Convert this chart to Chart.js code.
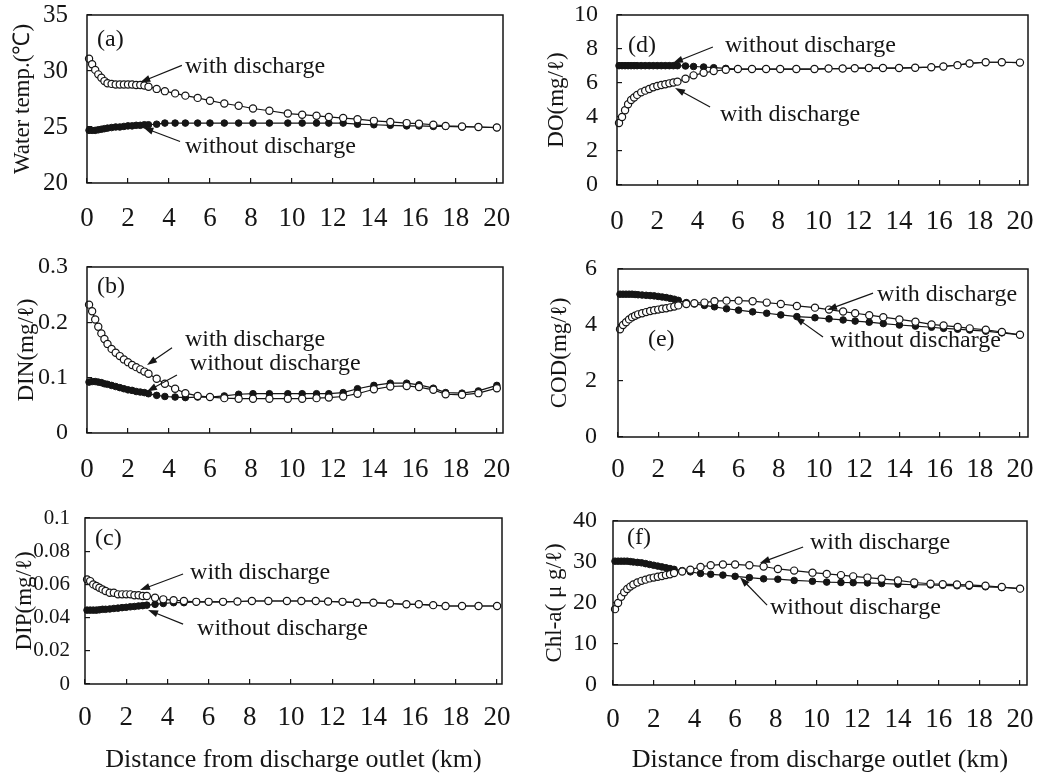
<!DOCTYPE html>
<html>
<head>
<meta charset="utf-8">
<script src="https://cdn.jsdelivr.net/npm/chart.js@4.4.0/dist/chart.umd.min.js"></script>
<style>
  body { margin: 0; background: #fff; }
  canvas { position: absolute; }
</style>
</head>
<body>
<canvas id="ca"></canvas>
<canvas id="cb"></canvas>
<canvas id="cc"></canvas>
<canvas id="cd"></canvas>
<canvas id="ce"></canvas>
<canvas id="cf"></canvas>
<script>
// distance from outlet (km), model output points
var km = [0.1, 0.25, 0.4, 0.55, 0.7, 0.85, 1.0, 1.2, 1.4, 1.6, 1.8, 2.0, 2.2, 2.4, 2.6, 2.8, 3.0,
  3.4, 3.8, 4.3, 4.8, 5.4, 6.0, 6.7, 7.4, 8.1, 8.9, 9.8,
  10.5, 11.2, 11.8, 12.5, 13.2, 14.0, 14.8, 15.6, 16.2, 16.9, 17.5, 18.3, 19.1, 20.0];

var tempWith = [31.1, 30.6, 30.1, 29.7, 29.4, 29.1, 28.9, 28.85, 28.8, 28.8, 28.8, 28.8, 28.8, 28.75, 28.75, 28.7, 28.6,
  28.4, 28.2, 28.0, 27.8, 27.6, 27.35, 27.1, 26.9, 26.65, 26.45, 26.2,
  26.1, 26.0, 25.9, 25.8, 25.7, 25.55, 25.45, 25.35, 25.3, 25.2, 25.1, 25.05, 25.0, 24.95];
var tempWithout = [24.7, 24.7, 24.7, 24.75, 24.8, 24.85, 24.9, 24.95, 25.0, 25.0, 25.05, 25.1, 25.1, 25.15, 25.15, 25.2, 25.2,
  25.25, 25.35, 25.35, 25.35, 25.35, 25.35, 25.35, 25.35, 25.35, 25.35, 25.35,
  25.35, 25.35, 25.35, 25.35, 25.25, 25.2, 25.15, 25.1, 25.1, 25.05, 25.05, 25.0, 25.0, 24.95];

var dinWith = [0.232, 0.220, 0.205, 0.192, 0.180, 0.170, 0.161, 0.152, 0.145, 0.139, 0.133, 0.128, 0.123, 0.119, 0.115, 0.111, 0.107,
  0.098, 0.089, 0.080, 0.072, 0.067, 0.065, 0.063, 0.062, 0.062, 0.062, 0.062,
  0.062, 0.063, 0.064, 0.066, 0.071, 0.079, 0.084, 0.085, 0.083, 0.078, 0.070, 0.069, 0.072, 0.081];
var dinWithout = [0.092, 0.093, 0.093, 0.092, 0.091, 0.089, 0.088, 0.086, 0.084, 0.082, 0.080, 0.078, 0.077, 0.075, 0.074, 0.073, 0.071,
  0.068, 0.066, 0.065, 0.064, 0.065, 0.065, 0.067, 0.070, 0.071, 0.071, 0.071,
  0.071, 0.071, 0.071, 0.073, 0.080, 0.086, 0.090, 0.090, 0.087, 0.081, 0.073, 0.072, 0.076, 0.086];

var dipWith = [0.063, 0.062, 0.060, 0.059, 0.058, 0.057, 0.056, 0.055, 0.055, 0.054, 0.054, 0.054, 0.054, 0.0535, 0.0535, 0.053, 0.053,
  0.052, 0.051, 0.0505, 0.050, 0.0495, 0.0495, 0.0495, 0.0497, 0.050, 0.050, 0.050,
  0.050, 0.050, 0.0497, 0.0495, 0.049, 0.049, 0.0485, 0.048, 0.048, 0.0475, 0.047, 0.047, 0.047, 0.047];
var dipWithout = [0.0445, 0.0445, 0.0445, 0.0445, 0.0447, 0.045, 0.045, 0.0452, 0.0455, 0.0457, 0.046, 0.0462, 0.0465, 0.0467, 0.047, 0.0472, 0.0475,
  0.048, 0.0485, 0.049, 0.049, 0.0495, 0.0495, 0.0495, 0.0497, 0.050, 0.050, 0.050,
  0.050, 0.050, 0.0497, 0.0495, 0.049, 0.049, 0.0485, 0.048, 0.048, 0.0475, 0.047, 0.047, 0.047, 0.047];

var doWith = [3.65, 4.0, 4.4, 4.75, 5.0, 5.15, 5.3, 5.45, 5.55, 5.65, 5.75, 5.82, 5.88, 5.93, 5.98, 6.03, 6.08,
  6.25, 6.45, 6.6, 6.7, 6.78, 6.82, 6.82, 6.82, 6.82, 6.82, 6.82,
  6.85, 6.85, 6.87, 6.88, 6.88, 6.88, 6.9, 6.93, 6.97, 7.05, 7.15, 7.22, 7.22, 7.2];
var doWithout = [7.02, 7.02, 7.02, 7.02, 7.02, 7.02, 7.02, 7.02, 7.02, 7.02, 7.02, 7.02, 7.02, 7.02, 7.02, 7.02, 7.02,
  7.0, 6.97, 6.94, 6.9, 6.86, 6.82, 6.82, 6.82, 6.82, 6.82, 6.82,
  6.85, 6.85, 6.87, 6.88, 6.88, 6.88, 6.9, 6.93, 6.97, 7.05, 7.15, 7.22, 7.22, 7.2];

var codWith = [3.85, 4.0, 4.1, 4.2, 4.28, 4.33, 4.38, 4.42, 4.46, 4.5, 4.53, 4.55, 4.58, 4.6, 4.63, 4.66, 4.7,
  4.75, 4.78, 4.8, 4.85, 4.87, 4.87, 4.85, 4.8, 4.75, 4.68, 4.62,
  4.55, 4.48, 4.42, 4.35, 4.28, 4.2, 4.12, 4.02, 3.98, 3.93, 3.88, 3.83, 3.75, 3.65];
var codWithout = [5.1, 5.1, 5.1, 5.1, 5.1, 5.09, 5.08, 5.07, 5.06, 5.05, 5.04, 5.02, 5.0, 4.98, 4.95, 4.92, 4.88,
  4.8, 4.75, 4.7, 4.65, 4.58, 4.53, 4.47, 4.42, 4.36, 4.3, 4.26,
  4.22, 4.18, 4.14, 4.1, 4.05, 4.0, 3.96, 3.92, 3.88, 3.85, 3.82, 3.78, 3.72, 3.65];

var chlWith = [18.5, 20.0, 21.5, 22.6, 23.4, 24.0, 24.5, 25.0, 25.4, 25.7, 26.0, 26.2, 26.4, 26.6, 26.8, 27.0, 27.3,
  27.7, 28.1, 28.8, 29.2, 29.4, 29.4, 29.2, 28.9, 28.3, 27.9, 27.4,
  27.1, 26.8, 26.5, 26.2, 25.9, 25.5, 25.0, 24.7, 24.6, 24.5, 24.4, 24.2, 23.9, 23.5];
var chlWithout = [30.2, 30.2, 30.2, 30.2, 30.2, 30.1, 30.0, 29.9, 29.8, 29.6, 29.4, 29.2, 29.0, 28.8, 28.6, 28.4, 28.2,
  27.9, 27.6, 27.2, 27.0, 26.8, 26.5, 26.2, 25.9, 25.8, 25.5, 25.3,
  25.1, 25.0, 24.95, 24.9, 24.75, 24.6, 24.45, 24.4, 24.3, 24.2, 24.1, 23.95, 23.8, 23.5];

var W = 'with discharge', WO = 'without discharge';
var ink = '#151515';
var serif = '"Liberation Serif", "Times New Roman", serif';

// labels + arrows in data units of each panel
var panels = [
  { id: 'ca', box: [0, 0, 525, 245], padTop: 15, padRight: 22, yw: 87, xh: 62, xMax: 20.3,
    yMin: 20, yMax: 35, step: 5, yFont: 25, yPad: 24, xPad: 25, title: 'Water temp.(℃)', tPad: 9,
    w: tempWith, wo: tempWithout,
    notes: [
      { text: '(a)', at: [0.49, 32.77] },
      { text: W, at: [4.78, 30.36], from: [4.63, 30.5], to: [2.6, 29.0] },
      { text: WO, at: [4.78, 23.2], from: [4.54, 23.7], to: [2.75, 24.95] }
    ] },
  { id: 'cb', box: [0, 245, 525, 245], padTop: 22, padRight: 22, yw: 87, xh: 57, xMax: 20.3,
    yMin: 0, yMax: 0.3, step: 0.1, yFont: 24, yPad: 24, xPad: 26, title: 'DIN(mg/ℓ)', tPad: 13,
    w: dinWith, wo: dinWithout,
    notes: [
      { text: '(b)', at: [0.49, 0.264] },
      { text: W, at: [4.78, 0.168], from: [4.15, 0.154], to: [2.93, 0.123] },
      { text: WO, at: [5.02, 0.125], from: [4.39, 0.105], to: [2.93, 0.075] }
    ] },
  { id: 'cc', box: [0, 490, 525, 286], padTop: 28, padRight: 23, yw: 85, xh: 92, xMax: 20.24,
    yMin: 0, yMax: 0.1, step: 0.02, yFont: 21, yPad: 20, xPad: 23, title: 'DIP(mg/ℓ)', tPad: 11,
    xTitle: 'Distance from discharge outlet (km)',
    w: dipWith, wo: dipWithout,
    notes: [
      { text: '(c)', at: [0.49, 0.0873] },
      { text: W, at: [5.1, 0.0669], from: [4.76, 0.0663], to: [2.67, 0.0566] },
      { text: WO, at: [5.44, 0.0331], from: [4.76, 0.0361], to: [3.06, 0.0446] }
    ] },
  { id: 'cd', box: [525, 0, 526, 245], padTop: 15, padRight: 23, yw: 92, xh: 60, xMax: 20.4,
    yMin: 0, yMax: 10, step: 2, yFont: 24, yPad: 24, xPad: 26, title: 'DO(mg/ℓ)', tPad: 18,
    w: doWith, wo: doWithout,
    notes: [
      { text: '(d)', at: [0.55, 8.18] },
      { text: WO, at: [5.36, 8.18], from: [4.76, 8.12], to: [2.78, 7.18] },
      { text: W, at: [5.11, 4.12], from: [4.62, 4.59], to: [2.88, 5.71] }
    ] },
  { id: 'ce', box: [525, 245, 526, 245], padTop: 24, padRight: 23, yw: 93, xh: 53, xMax: 20.4,
    yMin: 0, yMax: 6, step: 2, yFont: 24, yPad: 26, xPad: 22, title: 'COD(mg/ℓ)', tPad: 21,
    w: codWith, wo: codWithout,
    notes: [
      { text: '(e)', at: [1.49, 3.46] },
      { text: W, at: [12.89, 5.07], from: [12.69, 5.14], to: [10.4, 4.54] },
      { text: WO, at: [10.55, 3.43], from: [10.2, 3.57], to: [8.8, 4.29] }
    ] },
  { id: 'cf', box: [525, 490, 526, 286], padTop: 31, padRight: 24, yw: 88, xh: 91, xMax: 20.34,
    yMin: 0, yMax: 40, step: 10, yFont: 24, yPad: 21, xPad: 24, title: 'Chl-a( μ g/ℓ)', tPad: 16,
    xTitle: 'Distance from discharge outlet (km)',
    w: chlWith, wo: chlWithout,
    notes: [
      { text: '(f)', at: [0.69, 35.9] },
      { text: W, at: [9.68, 34.6], from: [9.34, 33.66], to: [7.22, 29.76] },
      { text: WO, at: [7.71, 18.8], from: [7.57, 19.5], to: [6.24, 26.3] }
    ] }
];

function arrow(ctx, x1, y1, x2, y2) {
  var a = Math.atan2(y2 - y1, x2 - x1);
  ctx.beginPath();
  ctx.moveTo(x1, y1);
  ctx.lineTo(x2 - 6 * Math.cos(a), y2 - 6 * Math.sin(a));
  ctx.stroke();
  ctx.beginPath();
  ctx.moveTo(x2, y2);
  ctx.lineTo(x2 - 10 * Math.cos(a) + 3.5 * Math.sin(a), y2 - 10 * Math.sin(a) - 3.5 * Math.cos(a));
  ctx.lineTo(x2 - 10 * Math.cos(a) - 3.5 * Math.sin(a), y2 - 10 * Math.sin(a) + 3.5 * Math.cos(a));
  ctx.closePath();
  ctx.fill();
}

var framePlugin = {
  id: 'frame',
  afterDraw: function(chart) {
    var ctx = chart.ctx, a = chart.chartArea;
    var xs = chart.scales.x, ys = chart.scales.y;
    var notes = chart.options.plugins.frame.notes;
    ctx.save();
    ctx.strokeStyle = ink;
    ctx.fillStyle = ink;
    ctx.lineWidth = 1.5;
    ctx.strokeRect(a.left, a.top, a.right - a.left, a.bottom - a.top);
    ctx.font = '24px ' + serif;
    ctx.textBaseline = 'middle';
    ctx.lineWidth = 1.2;
    notes.forEach(function(n) {
      ctx.fillText(n.text, xs.getPixelForValue(n.at[0]), ys.getPixelForValue(n.at[1]));
      if (n.from) {
        arrow(ctx, xs.getPixelForValue(n.from[0]), ys.getPixelForValue(n.from[1]),
          xs.getPixelForValue(n.to[0]), ys.getPixelForValue(n.to[1]));
      }
    });
    ctx.restore();
  }
};

function pts(vals) {
  return km.map(function(x, i) { return { x: x, y: vals[i] }; });
}

panels.forEach(function(p) {
  var cv = document.getElementById(p.id);
  cv.width = p.box[2];
  cv.height = p.box[3];
  cv.style.left = p.box[0] + 'px';
  cv.style.top = p.box[1] + 'px';
  cv.style.width = p.box[2] + 'px';
  cv.style.height = p.box[3] + 'px';

  new Chart(cv, {
    type: 'line',
    data: {
      datasets: [
        { label: W, data: pts(p.w), borderColor: ink, borderWidth: 1.2, tension: 0, clip: false,
          pointRadius: 3.6, pointBackgroundColor: '#fff', pointBorderColor: ink, pointBorderWidth: 1.2 },
        { label: WO, data: pts(p.wo), borderColor: ink, borderWidth: 1.2, tension: 0, clip: false,
          pointRadius: 3.3, pointBackgroundColor: ink, pointBorderColor: ink, pointBorderWidth: 1 }
      ]
    },
    options: {
      responsive: false,
      animation: false,
      events: [],
      layout: { padding: { top: p.padTop, right: p.padRight, left: 0, bottom: 0 } },
      scales: {
        x: {
          type: 'linear', min: 0, max: p.xMax,
          afterFit: function(s) { s.height = p.xh; s.paddingLeft = 0; s.paddingRight = 0; },
          border: { display: false },
          grid: { drawOnChartArea: false, tickLength: -5, color: ink, lineWidth: 1.2 },
          ticks: { stepSize: 2, includeBounds: false, autoSkip: false, maxRotation: 0,
            padding: p.xPad, color: ink, font: { family: serif, size: 27 } },
          title: { display: !!p.xTitle, text: p.xTitle || '', color: ink, padding: 0,
            font: { family: serif, size: 26 } }
        },
        y: {
          min: p.yMin, max: p.yMax,
          afterFit: function(s) { s.width = p.yw; s.paddingTop = 0; s.paddingBottom = 0; },
          border: { display: false },
          grid: { drawOnChartArea: false, tickLength: -5, color: ink, lineWidth: 1.2 },
          ticks: { stepSize: p.step, autoSkip: false, padding: p.yPad, color: ink,
            font: { family: serif, size: p.yFont },
            callback: function(v) { return String(Number(v.toFixed(4))); } },
          title: { display: true, text: p.title, color: ink, padding: { top: p.tPad, bottom: 0 },
            font: { family: serif, size: 23 } }
        }
      },
      plugins: {
        legend: { display: false },
        tooltip: { enabled: false },
        frame: { notes: p.notes }
      }
    },
    plugins: [framePlugin]
  });
});
</script>
</body>
</html>
